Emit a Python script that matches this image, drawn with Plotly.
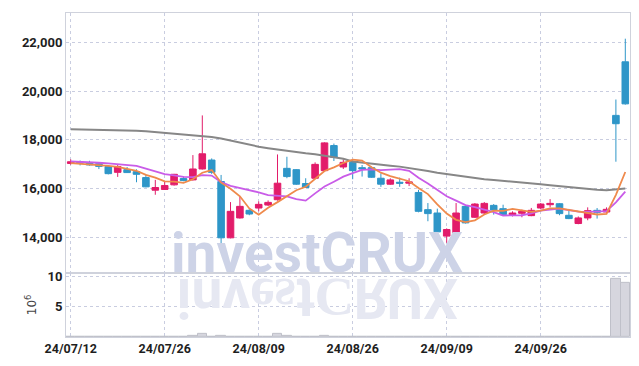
import plotly.graph_objects as go
from plotly.subplots import make_subplots

dates = ["2024-07-12", "2024-07-15", "2024-07-16", "2024-07-17", "2024-07-18", "2024-07-19",
         "2024-07-22", "2024-07-23", "2024-07-24", "2024-07-25", "2024-07-26", "2024-07-29",
         "2024-07-30", "2024-07-31", "2024-08-01", "2024-08-02", "2024-08-05", "2024-08-06",
         "2024-08-07", "2024-08-08", "2024-08-09", "2024-08-12", "2024-08-13", "2024-08-14",
         "2024-08-16", "2024-08-19", "2024-08-20", "2024-08-21", "2024-08-22", "2024-08-23",
         "2024-08-26", "2024-08-27", "2024-08-28", "2024-08-29", "2024-08-30", "2024-09-02",
         "2024-09-03", "2024-09-04", "2024-09-05", "2024-09-06", "2024-09-09", "2024-09-10",
         "2024-09-11", "2024-09-12", "2024-09-13", "2024-09-19", "2024-09-20", "2024-09-23",
         "2024-09-24", "2024-09-25", "2024-09-26", "2024-09-27", "2024-09-30", "2024-10-02",
         "2024-10-04", "2024-10-07", "2024-10-08", "2024-10-10", "2024-10-11", "2024-10-14"]

opens = [17030, 17090, 17060, 17020, 16900, 16665, 16775, 16694, 16450, 15930,
         15960, 16150, 16408, 16354, 16803, 17171, 16286, 13971, 14789, 15102,
         15196, 15319, 15539, 16830, 16775, 16204, 16422, 16735, 17767, 16885,
         17075, 16857, 16857, 16422, 16177, 16257, 16218, 15837, 15130, 14992,
         14041, 14176, 15265, 14816, 14992, 15306, 15170, 14925, 14980, 14884,
         15196, 15333, 15374, 14898, 14559, 14789, 15102, 15033, 19008, 21212]
highs = [17200, 17150, 17140, 17040, 16920, 16967, 16885, 16790, 16584, 16354,
         16313, 16600, 16500, 17375, 19007, 17238, 16558, 15441, 15673, 15150,
         15469, 15510, 17401, 17306, 16800, 16422, 17075, 17900, 17849, 17196,
         17171, 16967, 16900, 16626, 16420, 16449, 16420, 15946, 15401, 15171,
         14360, 15401, 15300, 15400, 15441, 15360, 15333, 15060, 15130, 15200,
         15400, 15563, 15400, 15160, 14850, 15224, 15197, 15224, 19661, 22163]
lows = [16980, 16950, 16940, 16800, 16580, 16477, 16640, 16257, 16050, 15743,
        15940, 16120, 16300, 16330, 16780, 16600, 13498, 13950, 14760, 14900,
        15061, 15280, 15500, 16422, 16150, 16020, 16400, 16700, 17130, 16803,
        16381, 16490, 16440, 16068, 16150, 16068, 16100, 15020, 14653, 14180,
        13767, 14150, 14560, 14790, 14950, 14926, 14900, 14850, 14816, 14860,
        15150, 15224, 14900, 14740, 14530, 14694, 14762, 15000, 17102, 19450]
closes = [17100, 17050, 16970, 16910, 16610, 16900, 16655, 16584, 16068, 16041,
          16122, 16584, 16326, 16803, 17428, 16665, 13971, 15061, 15265, 14951,
          15347, 15429, 16218, 16490, 16177, 16041, 16993, 17877, 17278, 17075,
          16735, 16803, 16463, 16177, 16354, 16218, 16270, 15061, 14967, 14216,
          14313, 14992, 14585, 15360, 15388, 15116, 14925, 14992, 15061, 15102,
          15360, 15388, 14967, 14762, 14789, 15089, 15020, 15143, 18665, 19482]

ma5 = [17040, 17020, 17000, 16960, 16930, 16890, 16810, 16730, 16560, 16450,
       16290, 16280, 16230, 16380, 16650, 16760, 16240, 15990, 15680, 15180,
       14920, 15210, 15440, 15690, 15930, 16070, 16380, 16720, 16870, 17050,
       17190, 17150, 16870, 16650, 16510, 16400, 16300, 16020, 15770, 15350,
       14970, 14710, 14620, 14690, 14930, 15090, 15080, 15160, 15100, 15040,
       15090, 15180, 15180, 15120, 15050, 15000, 14930, 14960, 15740, 16680]
ma10 = [17110, 17100, 17080, 17060, 17030, 17000, 16970, 16930, 16820, 16690,
        16590, 16540, 16480, 16470, 16550, 16530, 16260, 16110, 16030, 15920,
        15840, 15730, 15710, 15680, 15560, 15500, 15800, 16080, 16280, 16490,
        16630, 16770, 16790, 16760, 16780, 16800, 16730, 16440, 16210, 15930,
        15680, 15500, 15320, 15230, 15140, 15030, 14890, 14890, 14900, 14980,
        15090, 15130, 15170, 15110, 15050, 15040, 15050, 15070, 15430, 15870]
ma_long = [18440, 18435, 18430, 18425, 18420, 18410, 18400, 18380, 18360, 18330,
           18300, 18260, 18220, 18190, 18170, 18120, 18060, 17970, 17870, 17780,
           17720, 17660, 17600, 17550, 17500, 17450, 17410, 17350, 17290, 17220,
           17110, 17060, 17010, 16980, 16940, 16900, 16850, 16790, 16720, 16650,
           16590, 16530, 16470, 16410, 16380, 16350, 16320, 16290, 16250, 16210,
           16170, 16130, 16090, 16050, 16010, 15980, 15950, 15930, 15960, 16000]

volume_m = [0.05, 0.05, 0.04, 0.04, 0.06, 0.06, 0.04, 0.06, 0.08, 0.06,
            0.05, 0.08, 0.05, 0.20, 0.55, 0.10, 0.20, 0.10, 0.10, 0.05,
            0.05, 0.05, 0.55, 0.18, 0.08, 0.05, 0.10, 0.18, 0.10, 0.05,
            0.06, 0.05, 0.05, 0.05, 0.04, 0.04, 0.04, 0.10, 0.06, 0.10,
            0.08, 0.10, 0.06, 0.06, 0.05, 0.04, 0.04, 0.03, 0.03, 0.04,
            0.04, 0.04, 0.05, 0.04, 0.04, 0.05, 0.04, 0.04, 9.58, 8.95]

tick_dates = ["2024-07-12", "2024-07-26", "2024-08-09", "2024-08-26", "2024-09-09", "2024-09-26"]
price_ticks = [14000, 16000, 18000, 20000, 22000]
volume_ticks = [5, 10]

idx = list(range(len(dates)))
tickvals = [dates.index(d) for d in tick_dates]
ticktext = [d[2:].replace("-", "/") for d in tick_dates]

RED = "#e21c6a"
BLUE = "#2e96c8"
GRID = "#c9cde0"
LINE = "#cfd2dc"
FONT = "Roboto"
TICKFONT = dict(family=FONT, size=13, color="#1e1e1e", weight="bold")

fig = make_subplots(rows=2, cols=1, shared_xaxes=True, vertical_spacing=0,
                    row_heights=[0.802, 0.198])

# watermark (drawn first, beneath the candles)
fig.add_trace(go.Scatter(x=[26.2], y=[13120], mode="text", text=["investCRUX"],
                         textposition="middle center",
                         textfont=dict(family=FONT, size=55, color="rgb(205,211,231)", weight="bold"),
                         cliponaxis=False, hoverinfo="skip", showlegend=False), row=1, col=1)

fig.add_trace(go.Candlestick(x=idx, open=opens, high=highs, low=lows, close=closes,
                             increasing=dict(line=dict(color=RED, width=1), fillcolor=RED),
                             decreasing=dict(line=dict(color=BLUE, width=1), fillcolor=BLUE),
                             whiskerwidth=0, showlegend=False), row=1, col=1)

fig.add_trace(go.Scatter(x=idx, y=ma_long, mode="lines", line=dict(color="#878787", width=2),
                         showlegend=False), row=1, col=1)
fig.add_trace(go.Scatter(x=idx, y=ma10, mode="lines", line=dict(color="#c95ce8", width=1.8),
                         showlegend=False), row=1, col=1)
fig.add_trace(go.Scatter(x=idx, y=ma5, mode="lines", line=dict(color="#ef8a4c", width=1.8),
                         showlegend=False), row=1, col=1)

fig.add_trace(go.Bar(x=idx, y=volume_m, marker=dict(color="#d6d6de", line=dict(color="#bfc0c9", width=1)),
                     showlegend=False), row=2, col=1)

fig.add_annotation(x=26.2, y=6.5, xref="x2", yref="y2", text="XUЯƆtƨɘvni", textangle=180,
                   showarrow=False,
                   font=dict(family=FONT, size=55, color="rgb(230,232,242)", weight="bold"))

# the page body adds an 8px offset; the figure is sized so the plot lands where the reference has it
fig.update_layout(
    width=631, height=358,
    margin=dict(l=58, r=9, t=1, b=29),
    paper_bgcolor="white", plot_bgcolor="white",
    bargap=0.0, boxgap=0.3, boxgroupgap=0.0,
    showlegend=False,
    font=dict(family=FONT, color="#222"),
)

common_x = dict(range=[-0.5, 59.5], tickmode="array", tickvals=tickvals, ticktext=ticktext,
                showgrid=True, gridcolor=GRID, griddash="dot", gridwidth=1,
                showline=True, linecolor=LINE, linewidth=1, mirror=True,
                rangeslider=dict(visible=False), zeroline=False, ticks="")
fig.update_xaxes(**common_x)
fig.update_xaxes(showticklabels=False, row=1, col=1)
fig.update_xaxes(showticklabels=True, tickfont=dict(family=FONT, size=12.5, color="#1e1e1e", weight="bold"),
                 row=2, col=1)

fig.update_yaxes(range=[12530, 23220], tickmode="array", tickvals=price_ticks, tickformat=",",
                 showgrid=True, gridcolor=GRID, griddash="dot", gridwidth=1,
                 showline=True, linecolor=LINE, mirror=True, zeroline=False,
                 tickfont=TICKFONT, row=1, col=1)
fig.update_yaxes(range=[0, 10.55], tickmode="array", tickvals=volume_ticks,
                 showgrid=True, gridcolor=GRID, griddash="dot", gridwidth=1,
                 showline=True, linecolor=LINE, mirror=True, zeroline=False,
                 tickfont=TICKFONT,
                 title=dict(text="10<sup>6</sup>", font=dict(family="DejaVu Sans", size=12, color="#444"),
                            standoff=8),
                 row=2, col=1)

fig.write_html("out.html")
